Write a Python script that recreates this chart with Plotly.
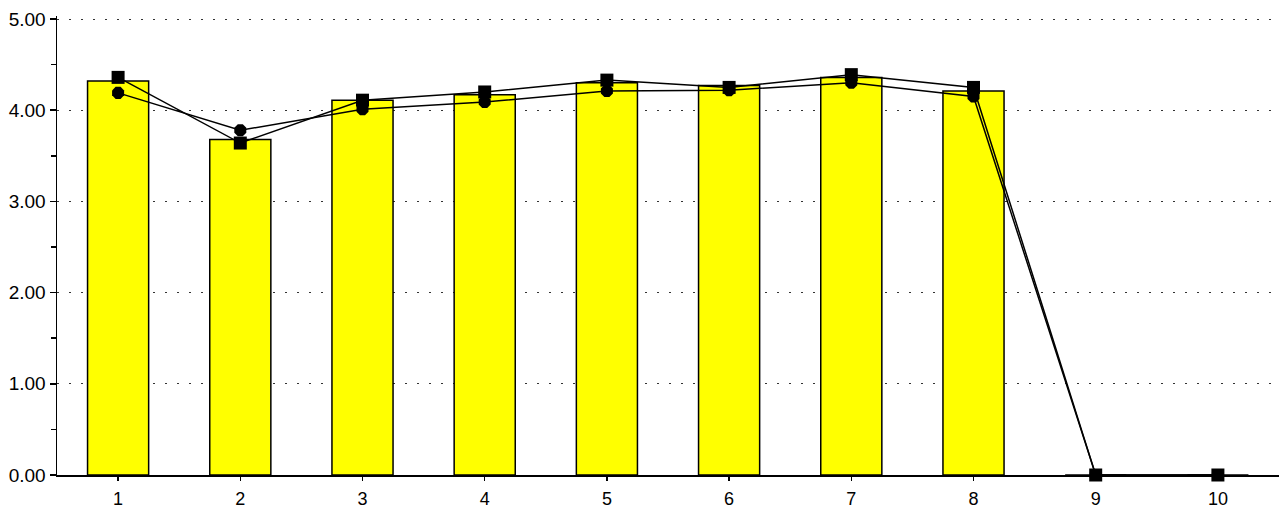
import plotly.graph_objects as go

categories = [1, 2, 3, 4, 5, 6, 7, 8, 9, 10]
tick_labels = ["1", "2", "3", "4", "5", "6", "7", "8", "9", "10"]
bar_values = [4.32, 3.68, 4.11, 4.17, 4.30, 4.27, 4.36, 4.21, 0, 0]
square_values = [4.36, 3.64, 4.11, 4.20, 4.33, 4.25, 4.39, 4.25, 0, 0]
octagon_values = [4.19, 3.78, 4.01, 4.09, 4.21, 4.22, 4.30, 4.15, 0, 0]
y_ticks = [0, 1, 2, 3, 4, 5]
y_tick_labels = ["0.00", "1.00", "2.00", "3.00", "4.00", "5.00"]

font_family = "Liberation Sans, Arial, sans-serif"

fig = go.Figure()
fig.add_trace(go.Bar(
    x=categories, y=bar_values, width=0.5,
    marker=dict(color="#FFFF00", line=dict(color="black", width=1.5)),
    showlegend=False,
))
fig.add_trace(go.Scatter(
    x=categories, y=octagon_values, mode="lines+markers",
    line=dict(color="black", width=1.5),
    marker=dict(symbol="octagon", size=13, color="black"),
    cliponaxis=False, showlegend=False,
))
fig.add_trace(go.Scatter(
    x=categories, y=square_values, mode="lines+markers",
    line=dict(color="black", width=1.5),
    marker=dict(symbol="square", size=13, color="black"),
    cliponaxis=False, showlegend=False,
))

fig.update_layout(
    width=1279, height=510,
    margin=dict(l=57, r=0, t=16, b=35),
    paper_bgcolor="white", plot_bgcolor="white",
    font=dict(family=font_family, size=18, color="black"),
    bargap=0.5,
)
fig.update_xaxes(
    range=[0.5, 10.5], tickvals=categories, ticktext=tick_labels,
    showline=True, linecolor="black", linewidth=1.5,
    ticks="outside", ticklen=4, tickcolor="black", tickwidth=1.5,
    ticklabelstandoff=3,
    showgrid=False, zeroline=False, fixedrange=True, automargin=False,
)
fig.update_yaxes(
    range=[0, 5.033], tickvals=y_ticks, ticktext=y_tick_labels,
    tickfont=dict(size=19),
    showline=True, linecolor="black", linewidth=1.5,
    ticks="outside", ticklen=6, tickcolor="black", tickwidth=1.5,
    showgrid=True, gridcolor="#333333", gridwidth=1, griddash="2px,10px",
    minor=dict(dtick=0.5, ticks="outside", ticklen=5, tickcolor="black", tickwidth=1.5, showgrid=False),
    zeroline=False, fixedrange=True, automargin=False,
)

fig.write_html(
    "out.html",
    config={"displayModeBar": False, "staticPlot": True},
    post_script="document.body.style.margin='0';document.body.style.overflow='hidden';",
)
